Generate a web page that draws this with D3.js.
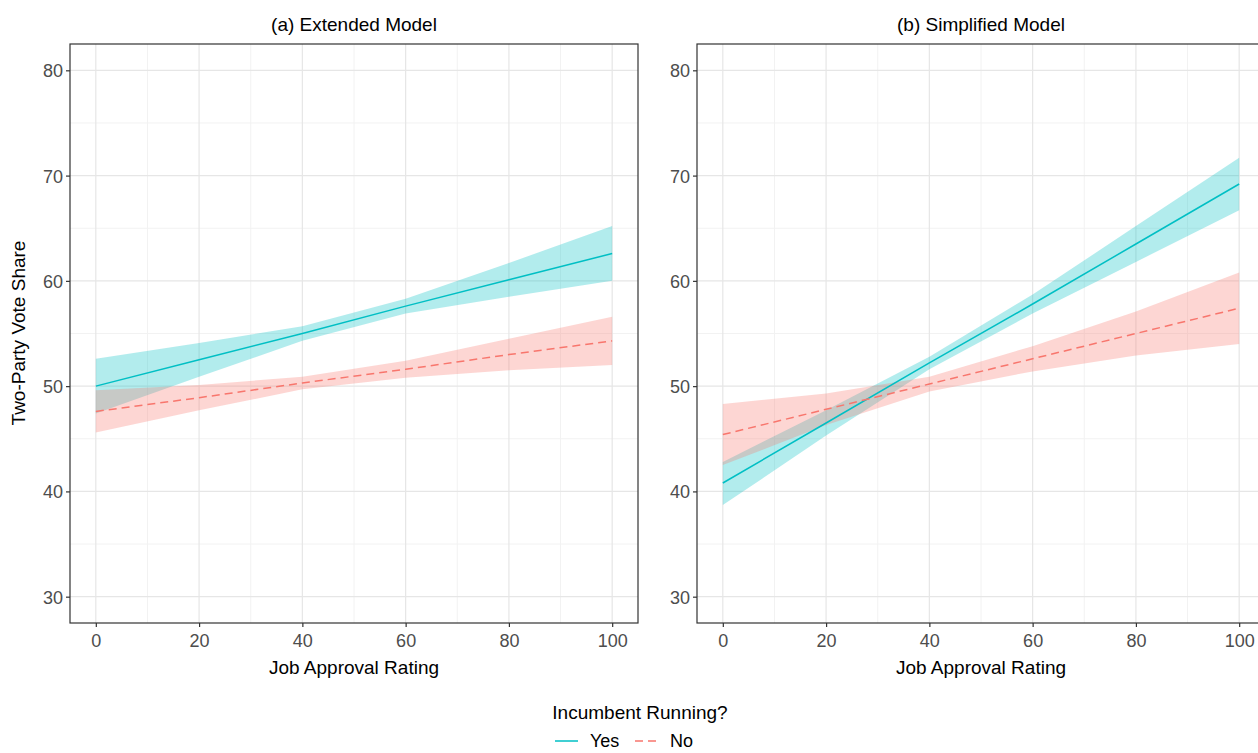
<!DOCTYPE html>
<html>
<head>
<meta charset="utf-8">
<script src="https://cdn.jsdelivr.net/npm/d3@7"></script>
<style>
  body { margin: 0; background: #fff; }
  text { font-family: "Liberation Sans", Arial, sans-serif; }
</style>
</head>
<body onload="init()">
<div id="chart"></div>
<script>
var approval = [0, 20, 40, 60, 80, 100];

var xTicks = [0, 20, 40, 60, 80, 100];
var yTicks = [30, 40, 50, 60, 70, 80];

var panelTitles = ["(a) Extended Model", "(b) Simplified Model"];
var groups = ["Yes", "No"];

// (a) Extended Model
var extYesFit   = [50.0, 52.5, 55.0, 57.6, 60.1, 62.6];
var extYesLower = [47.4, 50.9, 54.3, 56.9, 58.5, 60.0];
var extYesUpper = [52.6, 54.1, 55.7, 58.3, 61.7, 65.2];
var extNoFit    = [47.6, 48.9, 50.3, 51.6, 53.0, 54.3];
var extNoLower  = [45.6, 47.7, 49.7, 50.8, 51.5, 52.0];
var extNoUpper  = [49.6, 50.1, 50.9, 52.4, 54.5, 56.6];

// (b) Simplified Model
var simYesFit   = [40.8, 46.5, 52.2, 57.8, 63.5, 69.2];
var simYesLower = [38.7, 45.3, 51.6, 56.9, 61.8, 66.7];
var simYesUpper = [42.8, 47.7, 52.8, 58.7, 65.2, 71.7];
var simNoFit    = [45.4, 47.8, 50.2, 52.6, 55.0, 57.4];
var simNoLower  = [42.5, 46.3, 49.5, 51.4, 52.9, 54.0];
var simNoUpper  = [48.3, 49.3, 50.9, 53.8, 57.1, 60.8];

function init() {
    createChart();
}

function createChart() {

    var width = 1258, height = 753;

    var svg = d3.select("div#chart")
        .append("svg")
        .attr("width", width)
        .attr("height", height);

    var color = d3.scaleOrdinal().domain(groups).range(["#00BFC4", "#F8766D"]);
    var dash = { "Yes": null, "No": "8,5" };

    var panels = [
        { title: panelTitles[0], left: 70, series: [
            { g: "Yes", fit: extYesFit, lo: extYesLower, hi: extYesUpper },
            { g: "No", fit: extNoFit, lo: extNoLower, hi: extNoUpper } ] },
        { title: panelTitles[1], left: 697, series: [
            { g: "Yes", fit: simYesFit, lo: simYesLower, hi: simYesUpper },
            { g: "No", fit: simNoFit, lo: simNoLower, hi: simNoUpper } ] }
    ];

    var pw = 568, top = 44, bottom = 623;

    var y = d3.scaleLinear().domain([27.5, 82.5]).range([bottom, top]);

    panels.forEach(function(p) {
        var x = d3.scaleLinear().domain([-5, 105]).range([p.left, p.left + pw]);
        var g = svg.append("g");

        // minor grid
        g.selectAll(".vminor").data(d3.range(10, 100, 20)).enter().append("line")
            .attr("x1", d => x(d)).attr("x2", d => x(d))
            .attr("y1", top).attr("y2", bottom)
            .attr("stroke", "#F2F2F2").attr("stroke-width", 1);
        g.selectAll(".hminor").data(d3.range(35, 80, 10)).enter().append("line")
            .attr("y1", d => y(d)).attr("y2", d => y(d))
            .attr("x1", p.left).attr("x2", p.left + pw)
            .attr("stroke", "#F2F2F2").attr("stroke-width", 1);
        // major grid
        g.selectAll(".vmajor").data(xTicks).enter().append("line")
            .attr("x1", d => x(d)).attr("x2", d => x(d))
            .attr("y1", top).attr("y2", bottom)
            .attr("stroke", "#E6E6E6").attr("stroke-width", 1.2);
        g.selectAll(".hmajor").data(yTicks).enter().append("line")
            .attr("y1", d => y(d)).attr("y2", d => y(d))
            .attr("x1", p.left).attr("x2", p.left + pw)
            .attr("stroke", "#E6E6E6").attr("stroke-width", 1.2);

        // ribbons
        var area = d3.area()
            .x(d => x(d.a))
            .y0(d => y(d.lo))
            .y1(d => y(d.hi));
        p.series.forEach(function(s) {
            var pts = approval.map((a, i) => ({ a: a, lo: s.lo[i], hi: s.hi[i] }));
            g.append("path")
                .attr("d", area(pts))
                .attr("fill", color(s.g))
                .attr("fill-opacity", 0.3);
        });

        // fitted lines
        var line = d3.line().x(d => x(d.a)).y(d => y(d.v));
        p.series.forEach(function(s) {
            var pts = approval.map((a, i) => ({ a: a, v: s.fit[i] }));
            g.append("path")
                .attr("d", line(pts))
                .attr("fill", "none")
                .attr("stroke", color(s.g))
                .attr("stroke-width", 1.5)
                .attr("stroke-dasharray", dash[s.g]);
        });

        // border
        g.append("rect")
            .attr("x", p.left).attr("y", top)
            .attr("width", pw).attr("height", bottom - top)
            .attr("fill", "none").attr("stroke", "#333").attr("stroke-width", 1.2);

        // axes
        var xAxis = g.append("g").attr("transform", "translate(0," + bottom + ")")
            .call(d3.axisBottom(x).tickValues(xTicks).tickSize(4).tickPadding(4));
        var yAxis = g.append("g").attr("transform", "translate(" + p.left + ",0)")
            .call(d3.axisLeft(y).tickValues(yTicks).tickSize(4).tickPadding(3));
        [xAxis, yAxis].forEach(function(ax) {
            ax.select(".domain").remove();
            ax.selectAll("line").attr("stroke", "#333").attr("stroke-width", 1.2);
            ax.selectAll("text").attr("fill", "#4D4D4D")
                .style("font-size", "18px")
                .style("font-family", "'Liberation Sans', Arial, sans-serif");
        });
        xAxis.selectAll("text").attr("dy", "0.9em");
        yAxis.selectAll("text").attr("dy", "0.36em");

        // panel title
        g.append("text")
            .attr("x", p.left + pw / 2).attr("y", 31)
            .attr("text-anchor", "middle")
            .style("font-size", "19px")
            .text(p.title);

        // x axis title
        g.append("text")
            .attr("x", p.left + pw / 2).attr("y", 674)
            .attr("text-anchor", "middle")
            .style("font-size", "19px")
            .text("Job Approval Rating");
    });

    // y axis title
    svg.append("text")
        .attr("transform", "translate(25,333) rotate(-90)")
        .attr("text-anchor", "middle")
        .style("font-size", "19px")
        .text("Two-Party Vote Share");

    // legend
    svg.append("text")
        .attr("x", 640).attr("y", 719)
        .attr("text-anchor", "middle")
        .style("font-size", "19px")
        .text("Incumbent Running?");

    var legend = svg.append("g").selectAll("g")
        .data(groups)
        .enter()
        .append("g")
        .attr("transform", function(d, i) { return "translate(" + (555 + i * 80) + ",741)"; });

    legend.append("line")
        .attr("x1", 0).attr("x2", 23)
        .attr("stroke", d => color(d))
        .attr("stroke-width", 1.5)
        .attr("stroke-dasharray", d => d == "No" ? "8,5" : null);

    legend.append("text")
        .attr("x", 35).attr("y", 6)
        .style("font-size", "18px")
        .text(d => d);
}
</script>
</body>
</html>
